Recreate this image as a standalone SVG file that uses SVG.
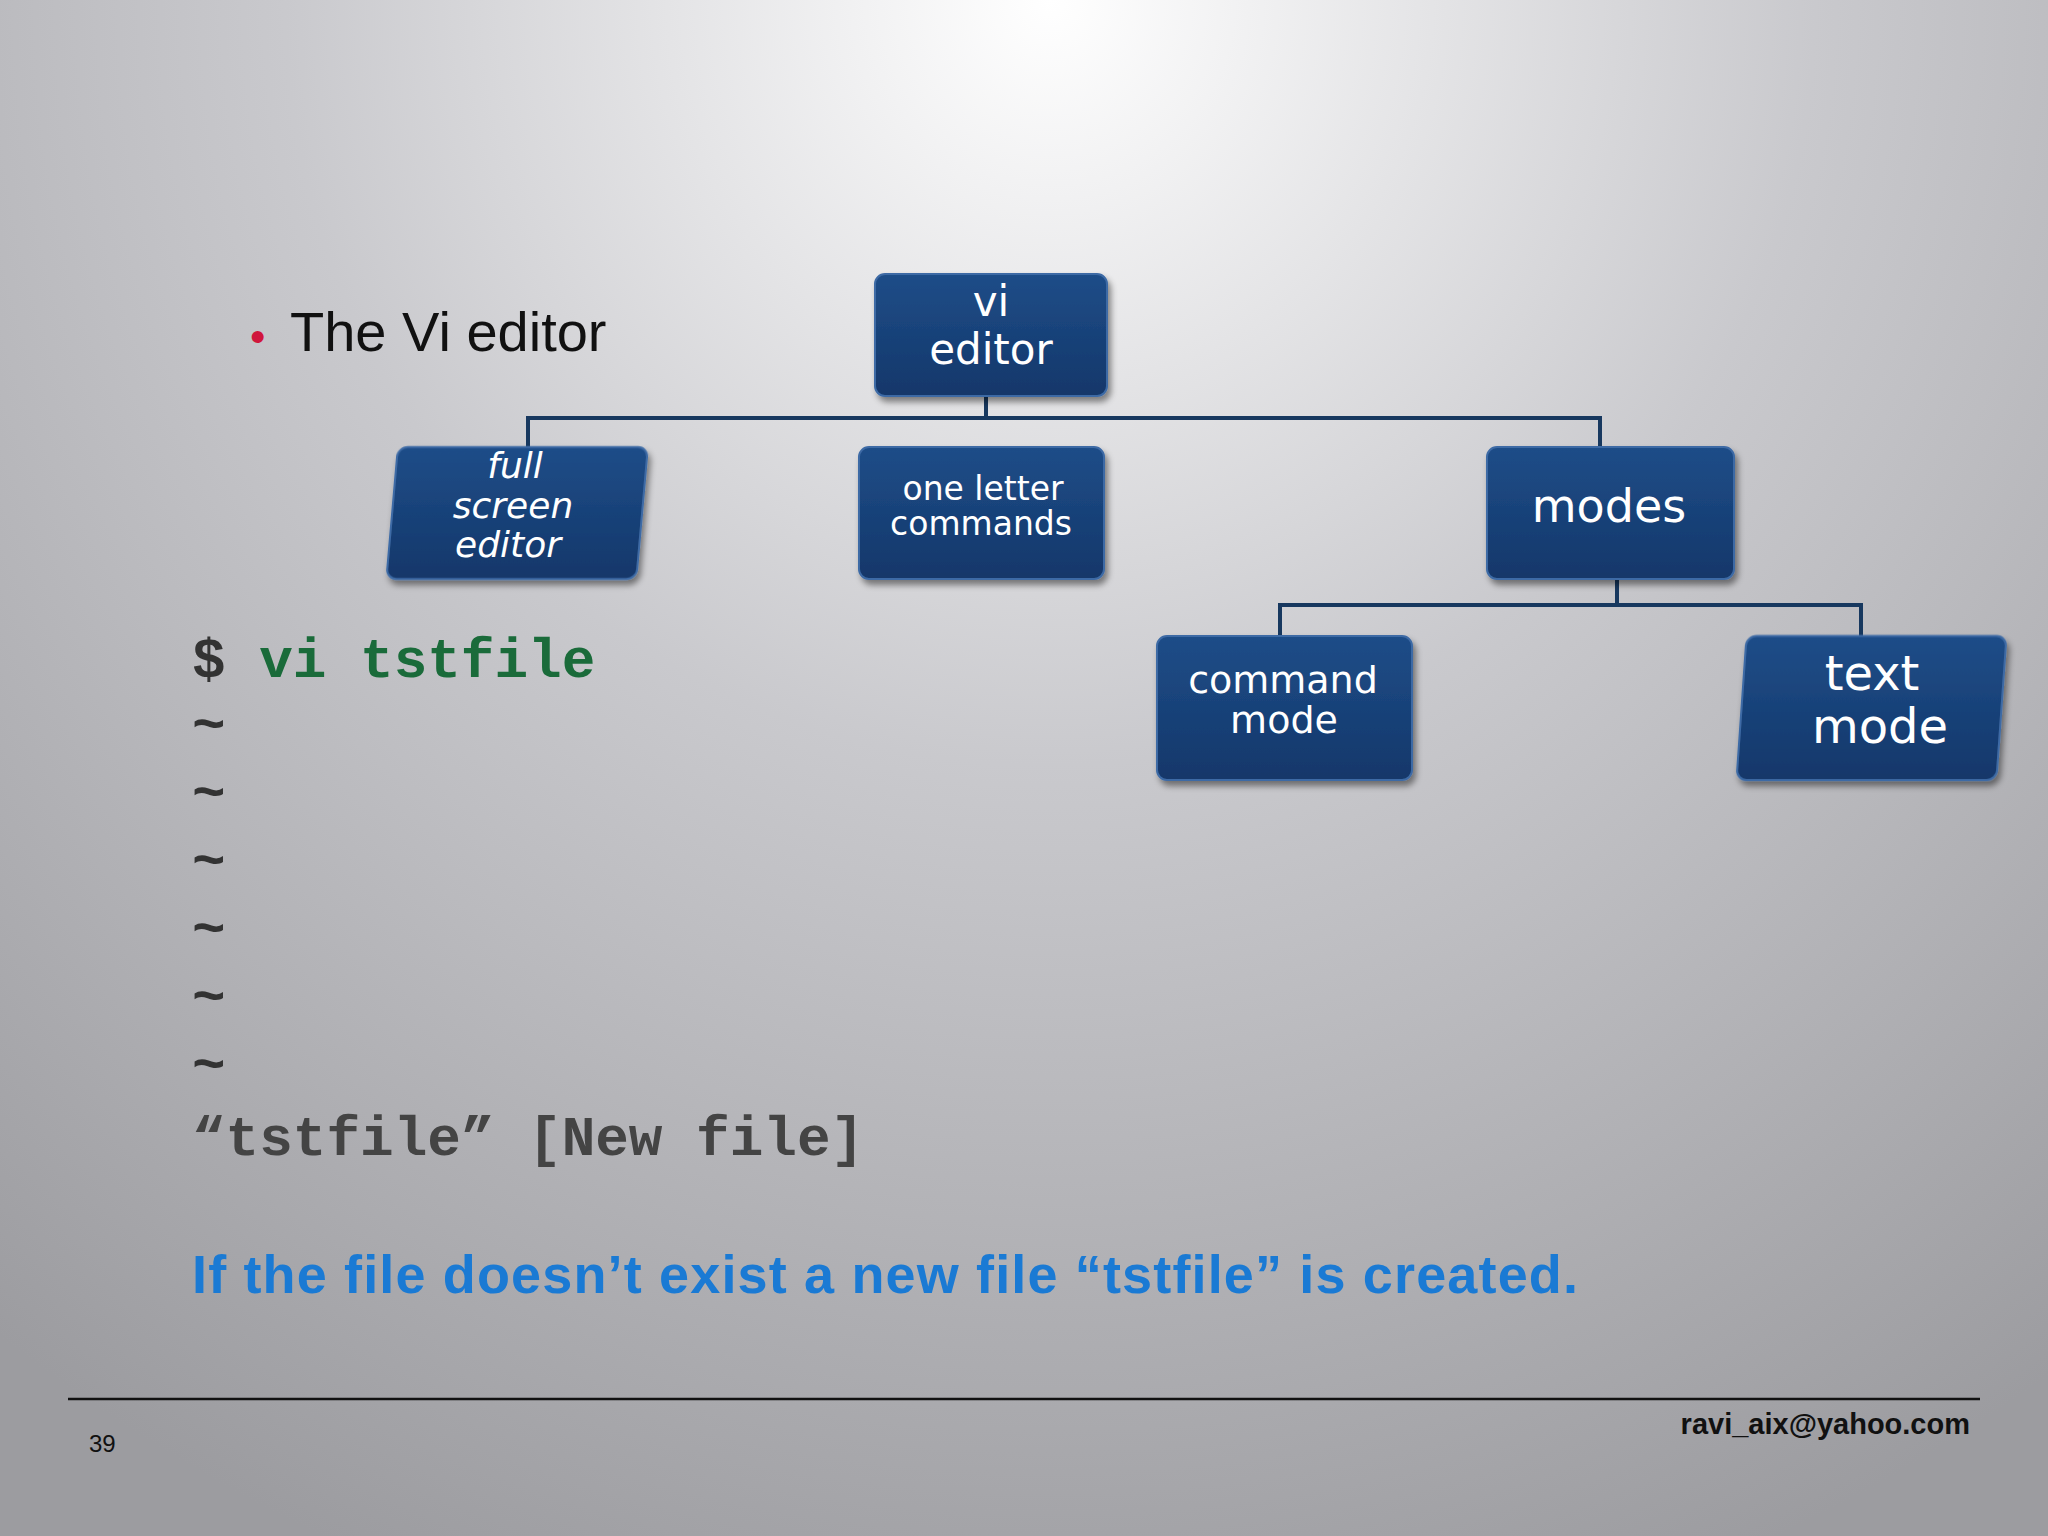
<svg xmlns="http://www.w3.org/2000/svg" width="2048" height="1536" viewBox="0 0 2048 1536">
<defs>
<radialGradient id="bg" cx="1050" cy="0" r="1700" gradientUnits="userSpaceOnUse">
<stop offset="0" stop-color="#ffffff"/><stop offset="0.45" stop-color="#c9c9cd"/><stop offset="1" stop-color="#9c9ca0"/>
</radialGradient>
<linearGradient id="nb" x1="0" y1="0" x2="0" y2="1">
<stop offset="0" stop-color="#1f4d88"/><stop offset="1" stop-color="#12376a"/>
</linearGradient>
<filter id="sh" x="-10%" y="-10%" width="130%" height="140%"><feDropShadow dx="3" dy="5" stdDeviation="3" flood-color="#000" flood-opacity="0.45"/></filter>
<style>
.node{fill:url(#nb);stroke:#3d6aa5;stroke-width:2;filter:url(#sh)}
.nt{fill:#fff;font-family:"DejaVu Sans",sans-serif;text-anchor:middle}
.con{stroke:#17385f;stroke-width:4;fill:none}
.mono{font-family:"Liberation Mono",monospace;font-weight:bold;font-size:56px}
</style>
</defs>
<rect width="2048" height="1536" fill="url(#bg)"/>
<g id="connectors">
<path class="con" d="M986 396V418M528 447V418H1600V447"/>
<path class="con" d="M1617 579V605M1280 636V605H1861V636"/>
</g>
<g id="vi-editor"><rect class="node" x="875" y="274" width="232" height="122" rx="10"/>
<text class="nt" font-size="42" x="991" y="316">vi</text><text class="nt" font-size="42" x="991" y="364">editor</text></g>
<g id="full-screen-editor"><rect class="node" x="392" y="447" width="250" height="132" rx="10" transform="skewX(-5) translate(45 0)"/>
<text class="nt" font-size="36" font-style="italic" x="515" y="478">full</text>
<text class="nt" font-size="36" font-style="italic" x="513" y="518">screen</text>
<text class="nt" font-size="36" font-style="italic" x="508" y="557">editor</text></g>
<g id="one-letter-commands"><rect class="node" x="859" y="447" width="245" height="132" rx="10"/>
<text class="nt" font-size="33" x="983" y="500">one letter</text><text class="nt" font-size="33" x="981" y="535">commands</text></g>
<g id="modes"><rect class="node" x="1487" y="447" width="247" height="132" rx="10"/>
<text class="nt" font-size="46" x="1609" y="522">modes</text></g>
<g id="command-mode"><rect class="node" x="1157" y="636" width="255" height="144" rx="10"/>
<text class="nt" font-size="38" x="1283" y="693">command</text><text class="nt" font-size="38" x="1284" y="733">mode</text></g>
<g id="text-mode"><rect class="node" x="1745" y="636" width="260" height="144" rx="10" transform="skewX(-4) translate(46 0)"/>
<text class="nt" font-size="48" x="1872" y="690">text</text><text class="nt" font-size="48" x="1880" y="743">mode</text></g>
<text x="250" y="352" font-family="Liberation Sans,sans-serif" font-size="44" fill="#d0163c">•</text>
<text x="290" y="351" font-family="Liberation Sans,sans-serif" font-size="56" fill="#111">The Vi editor</text>
<text x="192" y="677" class="mono" fill="#333">$ <tspan fill="#1a6b3a">vi tstfile</tspan></text>
<g class="mono" fill="#333">
<text x="192" y="742">~</text><text x="192" y="810">~</text><text x="192" y="878">~</text>
<text x="192" y="946">~</text><text x="192" y="1014">~</text><text x="192" y="1082">~</text>
</g>
<text x="192" y="1155" class="mono" fill="#444">“tstfile” [New file]</text>
<text x="192" y="1293" font-family="Liberation Sans,sans-serif" font-weight="bold" font-size="54" fill="#1a7ad4" textLength="1386">If the file doesn’t exist a new file “tstfile” is created.</text>
<line x1="68" y1="1399" x2="1980" y2="1399" stroke="#111" stroke-width="2.5"/>
<text x="89" y="1452" font-family="Liberation Sans,sans-serif" font-size="24" fill="#111">39</text>
<text x="1970" y="1434" text-anchor="end" font-family="Liberation Sans,sans-serif" font-weight="bold" font-size="29" fill="#111">ravi_aix@yahoo.com</text>
</svg>
